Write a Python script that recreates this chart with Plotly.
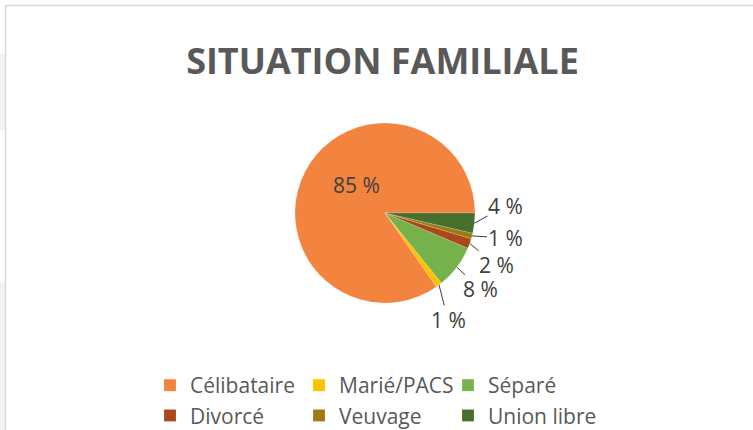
import math
import plotly.graph_objects as go

labels = ["Célibataire", "Marié/PACS", "Séparé", "Divorcé", "Veuvage", "Union libre"]
values = [84.7, 1.1, 7.8, 1.8, 1.0, 3.6]
colors = ["#F3843F", "#FFC000", "#75B24B", "#A9491A", "#9E7A10", "#47702F"]
title_text = "SITUATION FAMILIALE"

total = sum(values)
text_labels = [f"{round(v / total * 100)} %" for v in values]
# first slice drawn clockwise from the rotation point; the others follow counterclockwise
rotation = 90 + 360 * (total - values[0]) / total

W, H = 753, 430
ML, MR, MT, MB = 295, 278, 123, 127
PW, PH = W - ML - MR, H - MT - MB
R_PX = min(PW, PH) / 2

# label offsets (pixels, from the slice edge) -- layout only
label_offsets = [None, (9, 35), (24, 22), (27, 22), (33, 2), (31, -17)]


def px(x):
    return (x - ML) / PW


def py(y):
    return 1 - (y - MT) / PH


def slice_mid_angles():
    mids = []
    degs = [v / total * 360 for v in values]
    mids.append(rotation + degs[0] / 2)
    cum = 0
    for d in degs[1:]:
        mids.append(rotation - cum - d / 2)
        cum += d
    return mids


fig = go.Figure(go.Pie(
    labels=labels, values=values, sort=False,
    direction="counterclockwise", rotation=rotation,
    marker=dict(colors=colors, line=dict(color="rgba(255,255,255,0.35)", width=0.5)),
    textinfo="none",
    hoverinfo="label+percent",
))

annotations = []
for i, ang in enumerate(slice_mid_angles()):
    a = math.radians(ang)
    if label_offsets[i] is None:
        rr = 0.68 * R_PX
        annotations.append(dict(
            x=0.5 + rr * math.sin(a) / PW, y=0.5 + rr * math.cos(a) / PH,
            xref="paper", yref="paper", text=text_labels[i], showarrow=False,
            font=dict(family="Open Sans", size=21, color="#404040")))
    else:
        ox, oy = label_offsets[i]
        annotations.append(dict(
            x=0.5 + R_PX * math.sin(a) / PW, y=0.5 + R_PX * math.cos(a) / PH,
            xref="paper", yref="paper", text=text_labels[i], showarrow=True,
            ax=ox, ay=oy, arrowhead=0, arrowwidth=1, arrowcolor="#404040",
            standoff=0, startstandoff=0, borderpad=0,
            font=dict(family="Open Sans", size=21, color="#404040")))

shapes = [
    dict(type="rect", xref="paper", yref="paper", x0=px(0), x1=px(5), y0=py(54), y1=py(130),
         fillcolor="#F2F2F2", line=dict(width=0), layer="below"),
    dict(type="rect", xref="paper", yref="paper", x0=px(0), x1=px(5), y0=py(283), y1=py(430),
         fillcolor="#F2F2F2", line=dict(width=0), layer="below"),
    dict(type="line", xref="paper", yref="paper", x0=px(5.5), x1=px(5.5), y0=py(5), y1=py(430),
         line=dict(color="#D9D9D9", width=1.5)),
    dict(type="line", xref="paper", yref="paper", x0=px(5.5), x1=px(753), y0=py(5.5), y1=py(5.5),
         line=dict(color="#D9D9D9", width=1.5)),
]

fig.update_layout(
    width=W, height=H,
    margin=dict(l=ML, r=MR, t=MT, b=MB, autoexpand=False),
    paper_bgcolor="white", plot_bgcolor="white",
    title=dict(text=title_text, x=382.5 / W, xref="container", xanchor="center",
               y=1 - 61 / H, yref="container", yanchor="middle",
               font=dict(family="Open Sans", size=36, color="#595959", weight="bold")),
    showlegend=True,
    legend=dict(orientation="h", x=px(150), xanchor="left", xref="paper",
                y=py(365), yref="paper", yanchor="top",
                font=dict(family="Open Sans", size=21, color="#595959"),
                entrywidth=104, itemwidth=30, traceorder="normal"),
    shapes=shapes,
    annotations=annotations,
)

fig.write_html("out.html", config={"displayModeBar": False},
               post_script="document.body.style.margin='0';")
